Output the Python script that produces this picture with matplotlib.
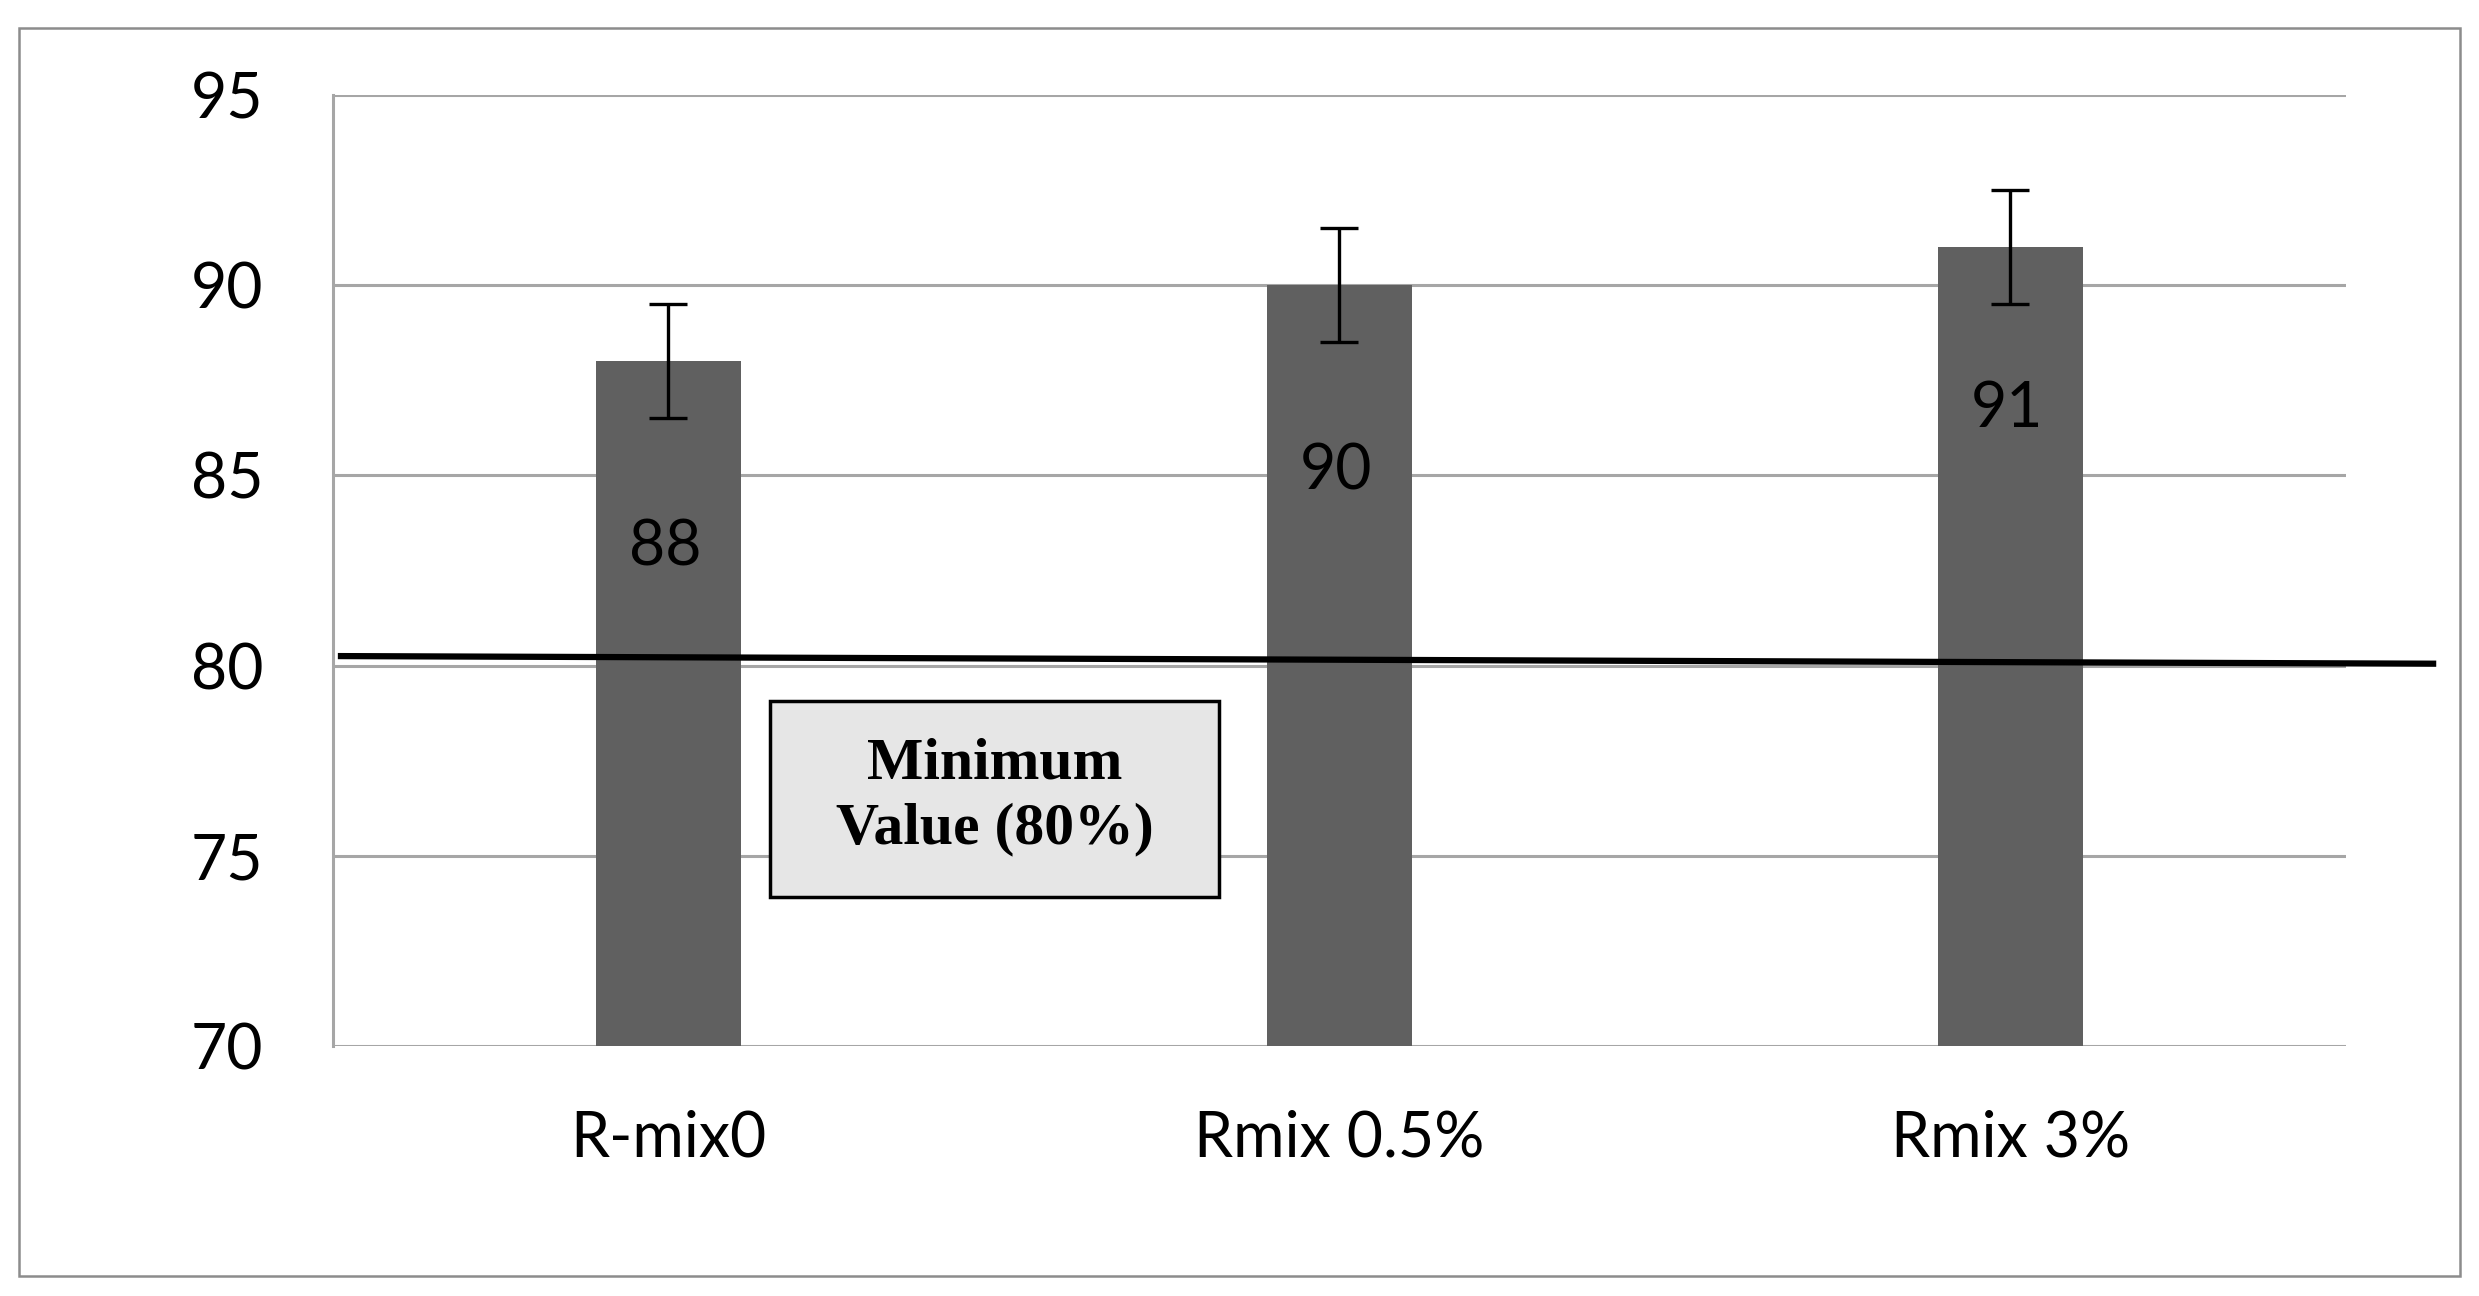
import numpy as np
import matplotlib as mpl
mpl.use('Agg')
from matplotlib import pyplot as plt
from matplotlib.patches import Rectangle

categories = ['R-mix0', 'Rmix 0.5%', 'Rmix 3%']
values = [88, 90, 91]
errors = [1.5, 1.5, 1.5]
yticks = [70, 75, 80, 85, 90, 95]
min_value = 80
min_label = 'Minimum\nValue (80%)'

plt.rcParams['font.family'] = ['Lato', 'DejaVu Sans']

fig = plt.figure(figsize=(24.79, 12.96), dpi=100)
# outer frame around the chart
fig.patches.append(Rectangle((19/2479, 1-1276/1296), (2460-19)/2479, (1276-28)/1296,
                             transform=fig.transFigure, fill=False,
                             edgecolor='#8c8c8c', linewidth=1.8))
ax = fig.add_axes([0.1343, 0.1929, 0.9463-0.1343, 0.9267-0.1929])

x = np.arange(len(categories))
ax.bar(x, values, width=0.217, color='#606060', zorder=3)
ax.errorbar(x, values, yerr=errors, fmt='none', ecolor='black',
            elinewidth=2.4, capsize=14, capthick=2.4, zorder=4)

label_offsets = [4.9, 4.9, 4.25]
for xi, v, off in zip(x, values, label_offsets):
    ax.text(xi - 0.005, v - off, str(v), ha='center', va='center',
            fontsize=45, color='black', zorder=5)

# minimum threshold line (runs past the plot edge)
ax.plot([-0.488, 2.63], [min_value + 0.25, min_value + 0.05], color='black',
        linewidth=4.5, clip_on=False, zorder=5)

box = Rectangle((0.152, 73.92), 0.821-0.152, 79.08-73.92, facecolor='#e6e6e6',
                edgecolor='black', linewidth=2.5, zorder=6)
ax.add_patch(box)
ax.text((0.152+0.821)/2, (73.92+79.08)/2 + 0.05, min_label, ha='center', va='center',
        fontsize=43, fontweight='bold', family=['Liberation Serif', 'DejaVu Serif'],
        linespacing=1.25, zorder=7)

ax.set_xlim(-0.5, 2.5)
ax.set_ylim(70, 95)
ax.set_yticks(yticks)
ax.set_xticks(x)
ax.set_xticklabels(categories)
ax.tick_params(axis='both', length=0, labelsize=45)
ax.tick_params(axis='x', pad=46)
ax.tick_params(axis='y', pad=50)
ax.yaxis.grid(True, color='#a6a6a6', linewidth=2.2, zorder=0)
ax.set_axisbelow(True)
for s in ['top', 'right', 'bottom']:
    ax.spines[s].set_visible(False)
ax.spines['left'].set_color('#a6a6a6')
ax.spines['left'].set_linewidth(2.2)

plt.savefig('out.png', dpi=100)
